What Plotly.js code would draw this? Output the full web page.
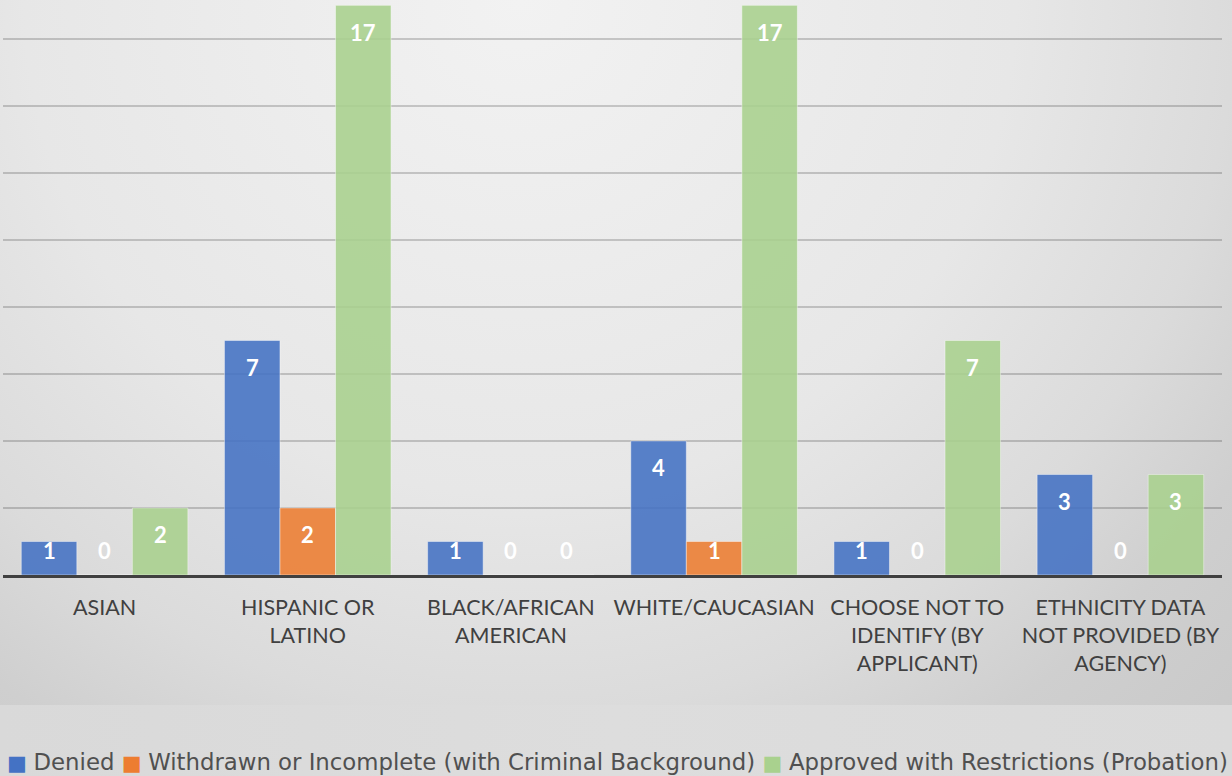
<!DOCTYPE html>
<html>
<head>
<meta charset="utf-8">
<script src="https://cdn.plot.ly/plotly-3.0.1.min.js"></script>
<style>
  html, body { margin: 0; padding: 0; }
  #chart {
    width: 1232px; height: 776px;
    background:
      radial-gradient(circle 1100px at 520px 0px, #f2f2f2 0%, #e7e7e7 45%, #dbdbdb 65%, #cfcfcf 78%, #c6c6c6 100%) top left / 1232px 705px no-repeat,
      linear-gradient(90deg, #d9d9d9, #dddddd 50%, #dadada) ;
  }
</style>
</head>
<body>
<div id="chart"></div>
<script>
// ---- data ----
const categories = [
  "ASIAN",
  "HISPANIC OR<br>LATINO",
  "BLACK/AFRICAN<br>AMERICAN",
  "WHITE/CAUCASIAN",
  "CHOOSE NOT TO<br>IDENTIFY (BY<br>APPLICANT)",
  "ETHNICITY DATA<br>NOT PROVIDED (BY<br>AGENCY)"
];
const seriesNames = [
  "Denied",
  "Withdrawn or Incomplete (with Criminal Background)",
  "Approved with Restrictions (Probation)"
];
const denied    = [1, 7, 1, 4, 1, 3];
const withdrawn = [0, 2, 0, 1, 0, 0];
const approved  = [2, 17, 0, 17, 7, 3];
const seriesColors = ["#4472C4", "#ED7D31", "#A9D18E"];

const allSeries = [denied, withdrawn, approved];
const bargap = 0.18;
const nS = allSeries.length;
const barW = (1 - bargap) / nS;

const traces = allSeries.map((vals, k) => ({
  type: "bar",
  name: seriesNames[k],
  x: categories,
  y: vals,
  marker: { color: seriesColors[k], opacity: 0.88, line: { color: "rgba(255,255,255,0.45)", width: 1 } },
  hoverinfo: "x+y+name",
  showlegend: false
}));

// value labels
const annotations = [];
allSeries.forEach((vals, k) => {
  vals.forEach((v, i) => {
    annotations.push({
      xref: "x", yref: "y",
      x: i + (k - (nS - 1) / 2) * barW,
      y: Math.max(v - 0.8, 0.74),
      yanchor: "middle", xanchor: "center",
      text: "<b>" + v + "</b>",
      showarrow: false,
      font: { family: "Lato, Calibri, sans-serif", size: 22, color: "#ffffff" }
    });
  });
});

// legend (drawn as one text line)
const nb = "\u00a0";
const legendText = seriesNames.map((n, k) =>
  '<span style="color:' + seriesColors[k] + ';font-size:21px">■' + nb + '</span>' + n
).join(nb);
annotations.push({
  xref: "paper", yref: "paper",
  x: 0.5037, y: -0.326, xanchor: "center", yanchor: "middle",
  text: legendText, showarrow: false,
  font: { family: "DejaVu Sans, sans-serif", size: 22.8, color: "#505050" }
});

const layout = {
  width: 1232, height: 776,
  margin: { l: 3, r: 10, t: 0, b: 201 },
  paper_bgcolor: "rgba(0,0,0,0)",
  plot_bgcolor: "rgba(0,0,0,0)",
  barmode: "group",
  bargap: bargap,
  bargroupgap: 0,
  showlegend: false,
  xaxis: {
    type: "category",
    showline: true, linecolor: "#404040", linewidth: 3,
    showgrid: false, zeroline: false,
    ticks: "outside", ticklen: 11, tickcolor: "rgba(0,0,0,0)",
    tickfont: { family: "Lato, Calibri, sans-serif", size: 21.5, color: "#404040" }
  },
  yaxis: {
    range: [0, 17.16],
    dtick: 2,
    showgrid: true, gridcolor: "rgba(0,0,0,0.18)", gridwidth: 1.5,
    zeroline: false, showticklabels: false, ticks: ""
  },
  annotations: annotations,
  font: { family: "Lato, sans-serif" }
};

Plotly.newPlot("chart", traces, layout, { displayModeBar: false, staticPlot: true });
</script>
</body>
</html>
